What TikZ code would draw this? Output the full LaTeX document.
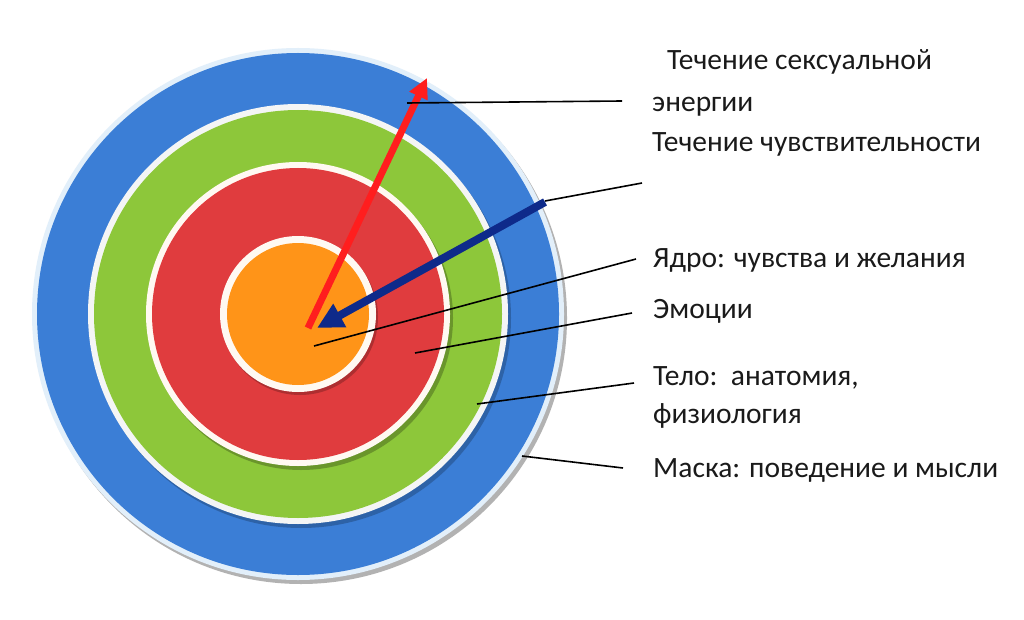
\documentclass[tikz,border=0pt]{standalone}
\usepackage{fontspec}
\setmainfont{Carlito}
\usetikzlibrary{arrows.meta}
\definecolor{ringblue}{HTML}{3B7ED6}
\definecolor{ringborder}{HTML}{E2EFFA}
\definecolor{ringgreen}{HTML}{8DC73A}
\definecolor{ringred}{HTML}{E03C3E}
\definecolor{ringorange}{HTML}{FF9418}
\definecolor{ringwhite}{HTML}{FFF9F2}
\definecolor{arrred}{HTML}{FF1E1E}
\definecolor{arrnavy}{HTML}{0E2A8A}
\definecolor{txt}{HTML}{1A1A1A}
\begin{document}
\begin{tikzpicture}[x=1pt,y=-1pt,
  lbl/.style={anchor=base west,inner sep=0pt,font=\fontsize{29.5}{32}\selectfont,text=txt},
  leader/.style={draw=black,line width=1.6pt},
  shadowc/.style={opacity=0.55}]
\useasboundingbox (0,0) rectangle (1024,620);
\fill[white] (0,0) rectangle (1024,620);
% outer ring
\fill[gray!60] (301,318) circle[radius=266pt];
\fill[ringborder] (298,314) circle[radius=266pt];
\fill[ringblue] (298,314) circle[radius=261pt];
% green ring
\fill[ringblue!60!black,shadowc] (301,318) circle[radius=210pt];
\fill[ringwhite!60!ringborder] (298,314) circle[radius=210pt];
\fill[ringgreen] (298,314) circle[radius=204pt];
% red ring
\fill[ringgreen!55!black,shadowc] (301,318) circle[radius=152pt];
\fill[ringwhite] (298,314) circle[radius=152pt];
\fill[ringred] (298,314) circle[radius=146pt];
% orange core
\fill[ringred!60!black,shadowc] (300,317) circle[radius=78pt];
\fill[ringwhite] (298,314) circle[radius=78pt];
\fill[ringorange] (298,314) circle[radius=71pt];

% arrows
\coordinate (rtail) at (308,328);
\coordinate (rtip) at (427,78);
\coordinate (btail) at (545,202);
\coordinate (btip) at (317,328);
\draw[arrred,line width=7pt,-{Triangle[length=20pt,width=19pt]}] (rtail) -- (rtip);
\draw[arrnavy,line width=8pt,-{Triangle[length=26pt,width=25pt]}] (btail) -- (btip);

% labels
\node[lbl] (t1) at (667,70) {Течение сексуальной};
\node[lbl] (t1b) at (652,112) {энергии};
\node[lbl] (t2) at (652,152) {Течение чувствительности};
\node[lbl] (t3) at (653,267) {Ядро: чувства и желания};
\node[lbl] (t4) at (653,318) {Эмоции};
\node[lbl] (t5) at (653,385) {Тело:\ \ анатомия,};
\node[lbl] (t5b) at (653,423) {физиология};
\node[lbl] (t6) at (653,477) {Маска: поведение и мысли};

% leader lines
\coordinate (s1) at (407,103); \coordinate (e1) at (622,101);
\coordinate (s2) at (545,201); \coordinate (e2) at (642,183);
\coordinate (s3) at (314,346); \coordinate (e3) at (636,259);
\coordinate (s4) at (415,353); \coordinate (e4) at (632,313);
\coordinate (s5) at (477,404); \coordinate (e5) at (634,383);
\coordinate (s6) at (522,456); \coordinate (e6) at (623,468);
\draw[leader] (s1) -- (e1);
\draw[leader] (s2) -- (e2);
\draw[leader] (s3) -- (e3);
\draw[leader] (s4) -- (e4);
\draw[leader] (s5) -- (e5);
\draw[leader] (s6) -- (e6);
\end{tikzpicture}
\end{document}
